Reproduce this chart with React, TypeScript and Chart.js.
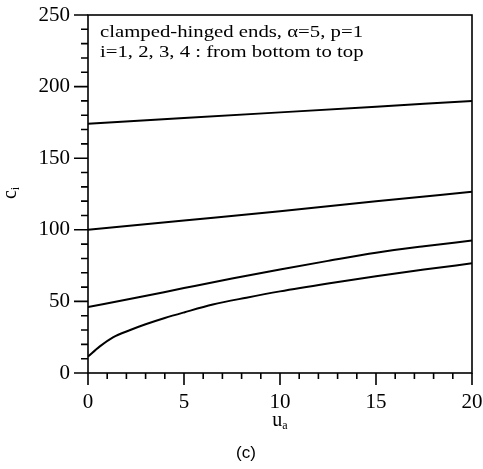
import React, { useEffect, useRef } from "react";
import { Chart, registerables } from "chart.js";

Chart.register(...registerables);

const x1 = [0, 0.6, 1.3, 2.2, 3, 4, 5, 6.5, 8.25, 10, 12.5, 15, 17.5, 20];
const c1 = [11.5, 18.4, 24.9, 30, 34, 38.4, 42.3, 47.8, 52.6, 57, 62.5, 67.6, 72.2, 76.6];
const x2 = [0, 2.5, 5, 7.5, 10, 12.5, 15, 17.5, 20];
const c2 = [46, 52.5, 59.3, 66, 72.3, 78.3, 84, 88.5, 92.5];
const x3 = [0, 5, 10, 15, 20];
const c3 = [100, 106.5, 113, 120, 126.5];
const x4 = [0, 5, 10, 15, 20];
const c4 = [174, 178, 182, 186, 190];

const annotationLines = [
  "clamped-hinged ends, \u03b1=5, p=1",
  "i=1, 2, 3, 4 : from bottom to top",
];

const SERIF = "'Liberation Serif', 'Times New Roman', serif";

const toPts = (xs: number[], ys: number[]) => xs.map((x, i) => ({ x, y: ys[i] }));

const decorPlugin = {
  id: "decor",
  afterDraw(chart: any) {
    const { ctx, chartArea } = chart;
    const xs = chart.scales.x;
    const ys = chart.scales.y;
    const { left, right, top, bottom } = chartArea;
    ctx.save();
    ctx.strokeStyle = "#000";
    ctx.lineWidth = 1.6;
    ctx.strokeRect(left, top, right - left, bottom - top);
    ctx.beginPath();
    for (let v = 0; v <= 250; v += 10) {
      const y = ys.getPixelForValue(v);
      const len = v % 50 === 0 ? 14 : 7;
      ctx.moveTo(left - len, y);
      ctx.lineTo(left, y);
    }
    for (let v = 0; v <= 20; v += 1) {
      const x = xs.getPixelForValue(v);
      const len = v % 5 === 0 ? 12 : 6;
      ctx.moveTo(x, bottom);
      ctx.lineTo(x, bottom + len);
    }
    ctx.stroke();

    ctx.fillStyle = "#000";
    ctx.textAlign = "left";
    ctx.textBaseline = "alphabetic";
    ctx.font = `16px ${SERIF}`;
    const w0 = ctx.measureText(annotationLines[0]).width;
    const sc = 263 / w0;
    annotationLines.forEach((t, i) => {
      ctx.save();
      ctx.translate(left + 12, top + 22 + i * 20);
      ctx.scale(sc, 1);
      ctx.fillText(t, 0, 0);
      ctx.restore();
    });

    // x title u_a
    ctx.font = `20px ${SERIF}`;
    const ux = xs.getPixelForValue(10);
    const uw = ctx.measureText("u").width;
    ctx.font = `12px ${SERIF}`;
    const aw = ctx.measureText("a").width;
    const startX = ux - (uw + aw) / 2;
    ctx.font = `20px ${SERIF}`;
    ctx.fillText("u", startX, 426);
    ctx.font = `12px ${SERIF}`;
    ctx.fillText("a", startX + uw, 429);

    // y title c_i rotated
    ctx.save();
    ctx.translate(16, 193);
    ctx.rotate(-Math.PI / 2);
    ctx.font = `20px ${SERIF}`;
    const cw = ctx.measureText("c").width;
    ctx.font = `12px ${SERIF}`;
    const iw = ctx.measureText("i").width;
    const sx = -(cw + iw) / 2;
    ctx.font = `20px ${SERIF}`;
    ctx.fillText("c", sx, 0);
    ctx.font = `12px ${SERIF}`;
    ctx.fillText("i", sx + cw, 3);
    ctx.restore();

    // (c)
    ctx.font = "17px 'Liberation Sans', sans-serif";
    ctx.textAlign = "center";
    ctx.fillText("(c)", 246, 458);
    ctx.restore();
  },
};

export default function App() {
  const ref = useRef<HTMLCanvasElement>(null);
  useEffect(() => {
    if (!ref.current) return;
    const ds = (xs: number[], ys: number[]) => ({
      data: toPts(xs, ys),
      borderColor: "#000",
      borderWidth: 2,
      pointRadius: 0,
      cubicInterpolationMode: "monotone" as const,
      fill: false,
    });
    const chart = new Chart(ref.current, {
      type: "line",
      data: { datasets: [ds(x1, c1), ds(x2, c2), ds(x3, c3), ds(x4, c4)] },
      options: {
        animation: false,
        responsive: false,
        layout: { padding: { top: 15, right: 11, left: 0, bottom: 0 } },
        plugins: { legend: { display: false }, tooltip: { enabled: false } },
        scales: {
          x: {
            type: "linear",
            min: 0,
            max: 20,
            grid: { display: false, drawTicks: false },
            border: { display: false },
            ticks: {
              stepSize: 5,
              padding: 17,
              color: "#000",
              font: { family: SERIF, size: 21 },
              maxRotation: 0,
            },
            afterFit: (s: any) => {
              s.height = 469 - 373;
              s.paddingLeft = 0;
              s.paddingRight = 0;
            },
          },
          y: {
            min: 0,
            max: 250,
            grid: { display: false, drawTicks: false },
            border: { display: false },
            ticks: {
              stepSize: 50,
              padding: 18,
              color: "#000",
              font: { family: SERIF, size: 21 },
            },
            afterFit: (s: any) => {
              s.width = 88;
              s.paddingTop = 0;
              s.paddingBottom = 0;
            },
          },
        },
      },
      plugins: [decorPlugin],
    });
    return () => chart.destroy();
  }, []);
  return (
    <div style={{ position: "fixed", left: 0, top: 0, width: 483, height: 469, background: "#fff" }}>
      <canvas ref={ref} width={483} height={469} style={{ width: 483, height: 469 }} />
    </div>
  );
}
